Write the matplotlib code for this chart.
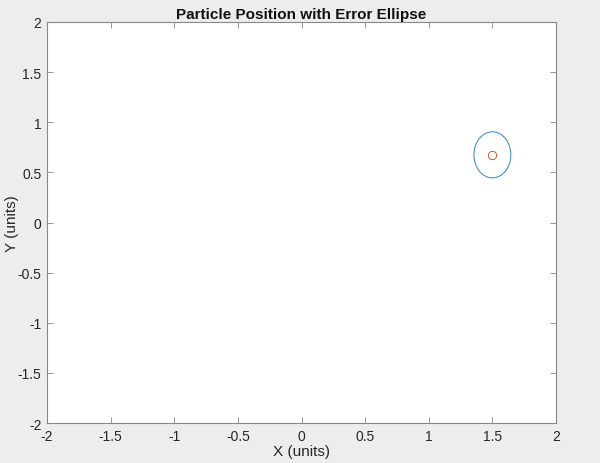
import matplotlib.pyplot as plt
from matplotlib.patches import Ellipse

# particle position and error ellipse (units)
center_x = [1.5]
center_y = [0.675]
ellipse_width = 0.29
ellipse_height = 0.46
ticks = [-2, -1.5, -1, -0.5, 0, 0.5, 1, 1.5, 2]
tick_labels = ['-2', '-1.5', '-1', '-0.5', '0', '0.5', '1', '1.5', '2']

plt.rcParams['font.family'] = ['Liberation Sans', 'DejaVu Sans']

fig = plt.figure(figsize=(6, 4.64), dpi=100, facecolor='#ededed')
ax = fig.add_axes([47/600, 1 - 424/464, (556-47)/600, (424-23)/464])
ax.set_facecolor('white')

ell = Ellipse((center_x[0], center_y[0]), ellipse_width, ellipse_height,
              fill=False, edgecolor='#2a86c8', linewidth=0.7)
ax.add_patch(ell)
ax.plot(center_x, center_y, 'o', markersize=6, markerfacecolor='none',
        markeredgecolor='#D95319', markeredgewidth=0.7)

ax.set_xlim(-2, 2)
ax.set_ylim(-2, 2)
ax.set_xticks(ticks)
ax.set_xticklabels(tick_labels)
ax.set_yticks(ticks)
ax.set_yticklabels(tick_labels)
ax.tick_params(direction='in', top=True, right=True, length=4, width=0.6,
               colors='#888888', labelcolor='#262626', labelsize=10, pad=4)
for s in ax.spines.values():
    s.set_color('#888888')
    s.set_linewidth(0.8)

ax.set_title('Particle Position with Error Ellipse', fontsize=11,
             fontweight='bold', color='#111111', pad=3)
ax.set_xlabel('X (units)', fontsize=11, color='#262626', labelpad=1)
ax.set_ylabel('Y (units)', fontsize=11, color='#262626', labelpad=-1)

fig.savefig('out.png', dpi=100, facecolor=fig.get_facecolor())
